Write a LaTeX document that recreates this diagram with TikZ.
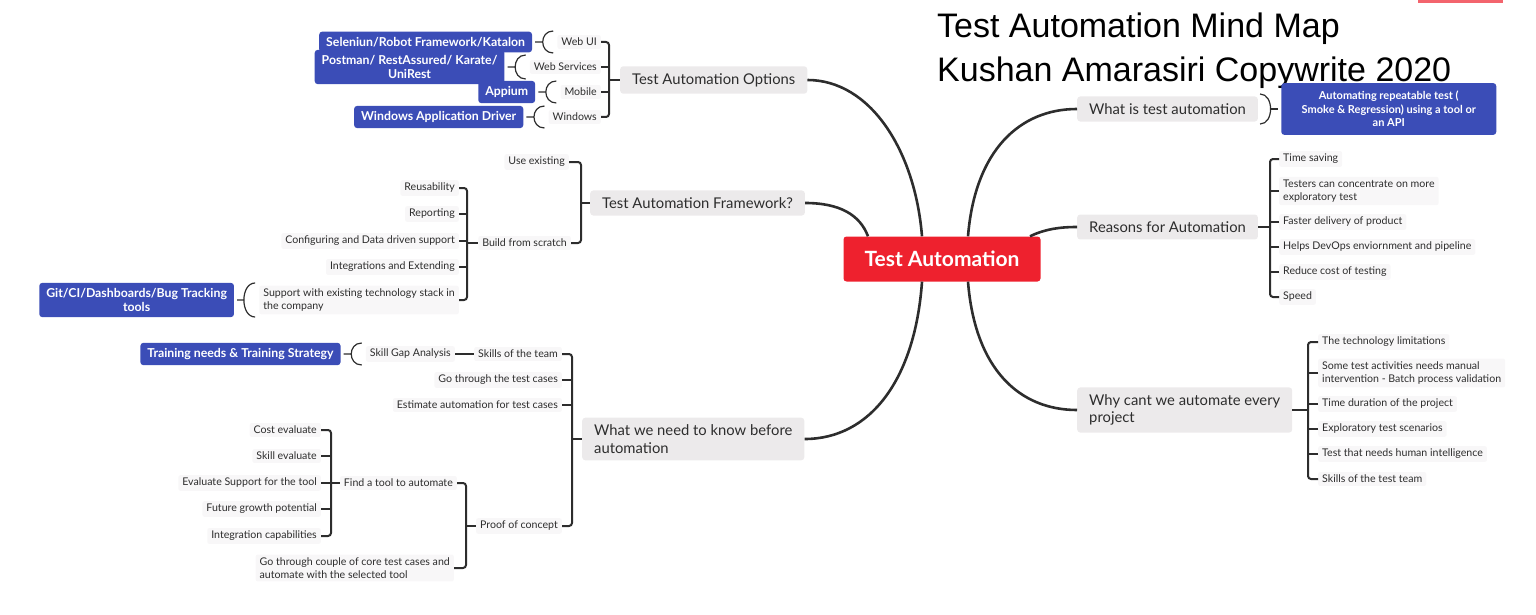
\documentclass[tikz,border=0pt]{standalone}
\usepackage{fontspec}
\setmainfont{Lato}
\newfontfamily\titlefont{Liberation Sans}
\usepackage{tikz}
\usetikzlibrary{positioning}
\definecolor{tared}{RGB}{238,33,46}
\definecolor{tablue}{RGB}{59,77,183}
\definecolor{topicgray}{RGB}{236,234,235}
\definecolor{leafgray}{RGB}{248,247,248}
\definecolor{ink}{RGB}{45,45,45}

\begin{document}
\begin{tikzpicture}[x=1pt,y=-1pt,
  leaf/.style={fill=leafgray, rounded corners=2pt, inner xsep=4pt, inner ysep=3pt, text=ink, font=\fontsize{10.6}{13}\selectfont},
  topic/.style={fill=topicgray, rounded corners=3pt, inner xsep=12pt, inner ysep=7pt, text=ink, font=\fontsize{14.8}{17.5}\selectfont},
  tool/.style={fill=tablue, rounded corners=3pt, inner xsep=7pt, inner ysep=5.5pt, text=white, font=\bfseries\fontsize{12.3}{14}\selectfont},
  brace/.style={draw=ink, line width=2pt, rounded corners=3pt},
  paren/.style={draw=ink, line width=1.2pt},
  branch/.style={draw=ink, line width=2.6pt}]
\useasboundingbox (0,0) rectangle (1536,615);
\fill[tared!70] (1418,0) rectangle (1503,3);
\node[anchor=base west, inner sep=0pt, font=\titlefont\fontsize{34}{40}\selectfont] (title) at (937,38) {Test Automation Mind Map};
\node[anchor=base west, inner sep=0pt, font=\titlefont\fontsize{34}{40}\selectfont] (author) at (937,82) {Kushan Amarasiri Copywrite 2020};

\node[fill=tared, rounded corners=3pt, minimum width=197pt, minimum height=45pt, text=white, font=\bfseries\fontsize{21}{24}\selectfont] (root) at (942,259) {Test Automation};

\node[topic, anchor=west] (opt) at (620,80) {Test Automation Options};
\node[topic, anchor=west] (fw) at (590,203) {Test Automation Framework?};
\node[topic, anchor=west, align=left] (know) at (582,439) {What we need to know before\\automation};
\node[topic, anchor=west] (wis) at (1077,109) {What is test automation};
\node[topic, anchor=west] (rfa) at (1077,227) {Reasons for Automation};
\node[topic, anchor=west, align=left] (why) at (1077,410) {Why cant we automate every\\project};

\draw[branch] ([xshift=-20pt]root.north) .. controls (915,150) and (870,80) .. (opt.east);
\draw[branch] ([xshift=-74pt]root.north) .. controls (860,215) and (840,203) .. (fw.east);
\draw[branch] ([xshift=-20pt]root.south) .. controls (915,380) and (870,439) .. (know.east);
\draw[branch] ([xshift=26pt]root.north) .. controls (975,150) and (1020,109) .. (wis.west);
\draw[branch] ([xshift=88pt]root.north) .. controls (1045,229) and (1060,227) .. (rfa.west);
\draw[branch] ([xshift=26pt]root.south) .. controls (975,370) and (1020,410) .. (why.west);

\node[leaf, anchor=east] (wui) at (601,42) {Web UI};
\node[leaf, anchor=east] (wsv) at (601,67) {Web Services};
\node[leaf, anchor=east] (mob) at (601,92) {Mobile};
\node[leaf, anchor=east] (win) at (601,117) {Windows};
\coordinate (ob) at (609,80);
\draw[brace] (wui.east) -| (ob) |- (win.east);
\draw[brace] (wsv.east) -- (wsv.east -| ob);
\draw[brace] (mob.east) -- (mob.east -| ob);
\draw[brace] (ob) -- (opt.west);
\node[tool, left=25pt of wui] (sel) {Seleniun/Robot Framework/Katalon};
\node[tool, left=25pt of wsv, align=center] (pst) {Postman/ RestAssured/ Karate/\\UniRest};
\node[tool, left=25pt of mob] (apm) {Appium};
\node[tool, left=25pt of win] (wad) {Windows Application Driver};
\draw[paren] ([xshift=3pt]sel.east) -- ++(7,0) ++(11,-11) .. controls +(-14,0) and +(-14,0) .. ++(0,22);
\draw[paren] ([xshift=3pt]pst.east) -- ++(7,0) ++(11,-12) .. controls +(-14,0) and +(-14,0) .. ++(0,24);
\draw[paren] ([xshift=3pt]apm.east) -- ++(7,0) ++(11,-11) .. controls +(-14,0) and +(-14,0) .. ++(0,22);
\draw[paren] ([xshift=3pt]wad.east) -- ++(7,0) ++(11,-11) .. controls +(-14,0) and +(-14,0) .. ++(0,22);

\node[leaf, anchor=east] (use) at (569,162) {Use existing};
\node[leaf, anchor=east] (bfs) at (571,243) {Build from scratch};
\coordinate (fb) at (581,203);
\draw[brace] (use.east) -| (fb) |- (bfs.east);
\draw[brace] (fb) -- (fw.west);
\node[leaf, anchor=east] (reu) at (459,188) {Reusability};
\node[leaf, anchor=east] (rep) at (459,214) {Reporting};
\node[leaf, anchor=east] (cfg) at (459,241) {Configuring and Data driven support};
\node[leaf, anchor=east] (ine) at (459,267) {Integrations and Extending};
\node[leaf, anchor=east, align=left] (sup) at (459,300) {Support with existing technology stack in\\the company};
\coordinate (bb) at (467,243);
\draw[brace] (reu.east) -| (bb) |- (sup.east);
\draw[brace] (rep.east) -- (rep.east -| bb);
\draw[brace] (cfg.east) -- (cfg.east -| bb);
\draw[brace] (ine.east) -- (ine.east -| bb);
\draw[brace] (bb) -- (bfs.west);
\node[tool, left=25pt of sup, align=center] (git) {Git/CI/Dashboards/Bug Tracking\\tools};
\draw[paren] ([xshift=3pt]git.east) -- ++(7,0) ++(11,-17) .. controls +(-15,0) and +(-15,0) .. ++(0,34);

\node[leaf, anchor=east] (skt) at (562,354) {Skills of the team};
\node[leaf, anchor=east] (gtc) at (562,380) {Go through the test cases};
\node[leaf, anchor=east] (eat) at (562,405) {Estimate automation for test cases};
\node[leaf, anchor=east] (poc) at (562,526) {Proof of concept};
\coordinate (kb) at (572,439);
\draw[brace] (skt.east) -| (kb) |- (poc.east);
\draw[brace] (gtc.east) -- (gtc.east -| kb);
\draw[brace] (eat.east) -- (eat.east -| kb);
\draw[brace] (kb) -- (know.west);
\node[leaf, left=19pt of skt] (sga) {Skill Gap Analysis};
\draw[brace] (sga) -- (skt);
\node[tool, left=25pt of sga] (trn) {Training needs \& Training Strategy};
\draw[paren] ([xshift=3pt]trn.east) -- ++(7,0) ++(11,-11) .. controls +(-14,0) and +(-14,0) .. ++(0,22);

\node[leaf, anchor=east] (fta) at (457,483) {Find a tool to automate};
\node[leaf, anchor=east, align=left] (gcc) at (454,568) {Go through couple of core test cases and\\automate with the selected tool};
\coordinate (pb) at (466,526);
\draw[brace] (fta.east) -| (pb) |- (gcc.east);
\draw[brace] (pb) -- (poc.west);
\node[leaf, anchor=east] (cst) at (321,430) {Cost evaluate};
\node[leaf, anchor=east] (ske) at (321,456) {Skill evaluate};
\node[leaf, anchor=east] (evs) at (321,483) {Evaluate Support for the tool};
\node[leaf, anchor=east] (fgp) at (321,509) {Future growth potential};
\node[leaf, anchor=east] (icp) at (321,536) {Integration capabilities};
\coordinate (tb) at (331,483);
\draw[brace] (cst.east) -| (tb) |- (icp.east);
\draw[brace] (ske.east) -- (ske.east -| tb);
\draw[brace] (evs.east) -- (evs.east -| tb);
\draw[brace] (fgp.east) -- (fgp.east -| tb);
\draw[brace] (tb) -- (fta.west);

\node[tool, right=23pt of wis, align=center, minimum width=215pt, inner ysep=8pt, font=\bfseries\fontsize{11}{13.5}\selectfont] (wdef) {Automating repeatable test (\\Smoke \& Regression) using a tool or\\an API};
\draw[paren] ([xshift=2pt]wis.east) ++(0,-15) .. controls +(14,0) and +(14,0) .. ++(0,30);
\draw[paren] ([xshift=12.5pt]wis.east) -- ([xshift=-3pt]wdef.west);

\node[leaf, anchor=west] (tsv) at (1279,159) {Time saving};
\node[leaf, anchor=west, align=left] (tcc) at (1279,191) {Testers can concentrate on more\\exploratory test};
\node[leaf, anchor=west] (fdp) at (1279,222) {Faster delivery of product};
\node[leaf, anchor=west] (hdo) at (1279,247) {Helps DevOps enviornment and pipeline};
\node[leaf, anchor=west] (rct) at (1279,272) {Reduce cost of testing};
\node[leaf, anchor=west] (spd) at (1279,297) {Speed};
\coordinate (rb) at (1270,227);
\draw[brace] (tsv.west) -| (rb) |- (spd.west);
\draw[brace] (tcc.west) -- (tcc.west -| rb);
\draw[brace] (fdp.west) -- (fdp.west -| rb);
\draw[brace] (hdo.west) -- (hdo.west -| rb);
\draw[brace] (rct.west) -- (rct.west -| rb);
\draw[brace] (rfa.east) -- (rb);

\node[leaf, anchor=west] (tlim) at (1318,342) {The technology limitations};
\node[leaf, anchor=west, align=left] (stm) at (1318,373) {Some test activities needs manual\\intervention - Batch process validation};
\node[leaf, anchor=west] (tdp) at (1318,404) {Time duration of the project};
\node[leaf, anchor=west] (ets) at (1318,429) {Exploratory test scenarios};
\node[leaf, anchor=west] (thi) at (1318,454) {Test that needs human intelligence};
\node[leaf, anchor=west] (sts) at (1318,479) {Skills of the test team};
\coordinate (yb) at (1308,410);
\draw[brace] (tlim.west) -| (yb) |- (sts.west);
\draw[brace] (stm.west) -- (stm.west -| yb);
\draw[brace] (tdp.west) -- (tdp.west -| yb);
\draw[brace] (ets.west) -- (ets.west -| yb);
\draw[brace] (thi.west) -- (thi.west -| yb);
\draw[brace] (why.east) -- (yb);
\end{tikzpicture}
\end{document}
